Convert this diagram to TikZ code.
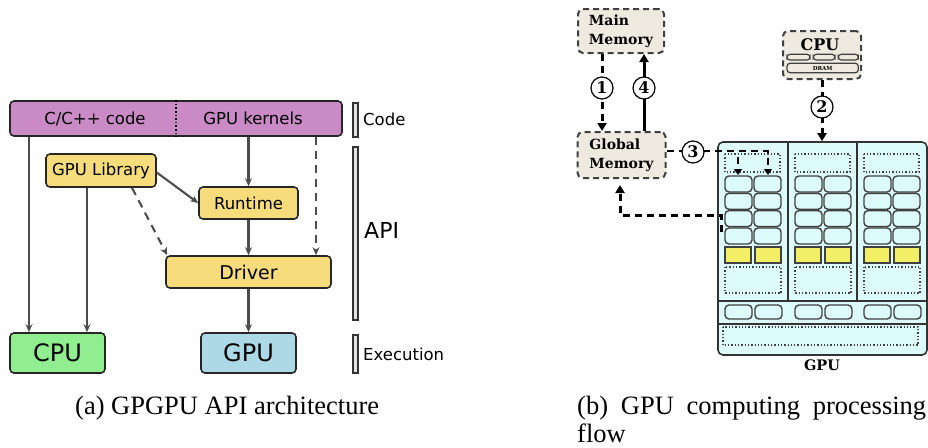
\documentclass[tikz,border=0pt]{standalone}
\usepackage{fontspec}
\setmainfont{Liberation Serif}
\newfontfamily\dvsans{DejaVu Sans}
\newfontfamily\dvserif{DejaVu Serif}
\usetikzlibrary{arrows.meta}
\definecolor{codepurple}{HTML}{C98AC6}
\definecolor{libyellow}{HTML}{F6DC7B}
\definecolor{cpugreen}{HTML}{90EE90}
\definecolor{gpublue}{HTML}{ADD8E6}
\definecolor{barfill}{HTML}{E2E2E2}
\definecolor{arrowgray}{HTML}{4D4D4D}
\definecolor{memfill}{HTML}{EEEADF}
\definecolor{gpucyan}{HTML}{DDFBFB}
\definecolor{coreyellow}{HTML}{F2EE66}
\begin{document}
\begin{tikzpicture}[x=1pt,y=-1pt,
  lbox/.style={draw=black!85, line width=1.6pt, rounded corners=4pt, inner sep=0pt},
  ltext/.style={font=\dvsans\fontsize{16.5}{18}\selectfont, inner sep=0pt},
  larrow/.style={draw=arrowgray, line width=2.1pt, -{Stealth[length=8pt,width=7pt]}},
  ldash/.style={larrow, dash pattern=on 8pt off 6pt},
  bar/.style={draw=black!80, fill=barfill, line width=1.4pt, minimum width=5pt, inner sep=0pt},
  mem/.style={draw=black!75, fill=memfill, line width=2pt, dash pattern=on 6pt off 4pt, rounded corners=5pt, inner sep=0pt, align=left, font=\dvserif\bfseries\fontsize{14}{18.5}\selectfont},
  rarrow/.style={draw=black, line width=3pt, -{Triangle[length=8pt,width=9pt]}},
  rdash/.style={rarrow, dash pattern=on 7pt off 5pt},
  thindash/.style={draw=black, line width=2.2pt, dash pattern=on 7pt off 5pt, -{Triangle[length=6pt,width=8pt]}},
  num/.style={circle, draw=black, line width=1.2pt, fill=white, minimum size=22pt, inner sep=0pt, font=\dvserif\bfseries\fontsize{16}{16}\selectfont},
  cell/.style={draw=black!75, fill=gpucyan, line width=1.4pt, rounded corners=4pt},
  core/.style={draw=black!75, fill=coreyellow, line width=1.4pt},
  dotbox/.style={draw=black!75, line width=1.3pt, dotted},
  captxt/.style={font=\fontsize{26.5}{28}\selectfont, inner sep=0pt, anchor=base west}
]
\useasboundingbox (0,0) rectangle (928,447);

% ---------------- left diagram ----------------
\node[lbox, fill=codepurple, minimum width=332pt, minimum height=35pt] (code) at (176,118.5) {};
\node[ltext] (ccode) at (95,118.5) {C/C++ code};
\node[ltext] (gkern) at (253,118.5) {GPU kernels};
\draw[dotted, line width=1.6pt] (176,0 |- code.north) -- (176,0 |- code.south);

\node[lbox, fill=libyellow, minimum width=110pt, minimum height=33pt, ltext] (lib) at (101,170.5) {GPU Library};
\node[lbox, fill=libyellow, minimum width=99pt, minimum height=32pt, ltext] (runtime) at (248.5,203) {Runtime};
\node[lbox, fill=libyellow, minimum width=165pt, minimum height=32pt, font=\dvsans\fontsize{19}{20}\selectfont] (driver) at (248.5,272) {Driver};
\node[lbox, fill=cpugreen, minimum width=95pt, minimum height=40pt, font=\dvsans\fontsize{24}{26}\selectfont] (cpu) at (57.5,353) {CPU};
\node[lbox, fill=gpublue, minimum width=95pt, minimum height=40pt, font=\dvsans\fontsize{24}{26}\selectfont] (gpu) at (248.5,353) {GPU};

\draw[larrow] (29,0 |- code.south) -- (29,0 |- cpu.north);
\draw[larrow] (87,0 |- lib.south) -- (87,0 |- cpu.north);
\draw[larrow] (248.5,0 |- code.south) -- (runtime.north);
\draw[ldash] (316,0 |- code.south) -- (316,0 |- driver.north);
\draw[larrow] ([yshift=-2pt]lib.east) -- (runtime.west);
\draw[ldash] (132,0 |- lib.south) -- ([xshift=2pt]driver.north west);
\draw[larrow] (runtime.south) -- (driver.north);
\draw[larrow] (driver.south) -- (gpu.north);

\node[bar, minimum height=34pt] (codebar) at (355.5,120) {};
\node[ltext, anchor=west] (codelbl) at (363,119) {Code};
\node[bar, minimum height=173pt] (apibar) at (355.5,233.5) {};
\node[font=\dvsans\fontsize{22}{24}\selectfont, inner sep=0pt, anchor=west] (apilbl) at (364,230) {API};
\node[bar, minimum height=38pt] (exebar) at (355.5,354) {};
\node[ltext, anchor=west] (exelbl) at (363,354) {Execution};

% ---------------- right diagram ----------------
\node[mem, minimum width=86pt, minimum height=44pt] (mainmem) at (621,31) {Main\\Memory};
\node[mem, minimum width=88pt, minimum height=46pt] (globmem) at (621.5,155) {Global\\Memory};

% CPU box
\node[mem, minimum width=78pt, minimum height=48pt] (cpubox) at (822,55) {};
\node[font=\dvserif\bfseries\fontsize{16}{16}\selectfont, inner sep=0pt] (cputxt) at (820,45) {CPU};
\draw[cell, fill=memfill, rounded corners=3pt, line width=1.2pt] (787,54.3) rectangle (810,60);
\draw[cell, fill=memfill, rounded corners=3pt, line width=1.2pt] (813.3,54.3) rectangle (835,60);
\draw[cell, fill=memfill, rounded corners=3pt, line width=1.2pt] (838.3,54.3) rectangle (858.3,60);
\draw[cell, fill=memfill, rounded corners=3pt, line width=1.2pt] (787,63.3) rectangle (858.3,72.7);
\node[font=\dvserif\bfseries\fontsize{5.5}{6}\selectfont, inner sep=0pt] (dram) at (822.6,68.3) {DRAM};

% GPU chip
\node[draw=black!80, fill=gpucyan, line width=1.6pt, rounded corners=5pt, minimum width=209pt, minimum height=213pt, inner sep=0pt] (chip) at (822.5,248.5) {};
\draw[draw=black!80, line width=1.6pt] (788,142) -- (788,301) (857,142) -- (857,301)
  (718,301) -- (927,301) (718,324) -- (927,324);
\foreach \L in {718,788,857}{
  \draw[dotbox] (\L+7,154) rectangle (\L+62,172);
  \foreach \y in {176,193.3,210.6,228}{
    \draw[cell] (\L+7,\y) rectangle ++(27,16);
    \draw[cell] (\L+36,\y) rectangle ++(27,16);
  }
  \draw[core] (\L+7,247) rectangle ++(26,16);
  \draw[core] (\L+37,247) rectangle ++(26,16);
  \draw[dotbox] (\L+7,267) rectangle (\L+63,293);
  \draw[cell] (\L+7,305) rectangle ++(27,14);
  \draw[cell] (\L+37,305) rectangle ++(27,14);
}
\draw[dotbox] (723,327) rectangle (918,345);
\node[font=\dvserif\bfseries\fontsize{14.5}{15}\selectfont, inner sep=0pt] (gpulbl) at (822,365) {GPU};

% flow arrows
\draw[rdash] (602,0 |- mainmem.south) -- (602,0 |- globmem.north);
\node[num] (n1) at (602,88) {1};
\draw[rarrow] (644,0 |- globmem.north) -- (644,0 |- mainmem.south);
\node[num] (n4) at (644,88) {4};
\draw[rdash] (cpubox.south) -- (822,0 |- chip.north);
\node[num] (n2) at (822,107) {2};
\draw[thindash] (globmem.east |- 0,151) -- (768,151) -- (768,175);
\draw[thindash] (738,157) -- (738,175);
\node[num] (n3) at (693,152) {3};
\draw[rdash, shorten >=6pt] (721,232) -- (721,215) -- (620,215) -- (620,0 |- globmem.south);

% captions
\node[captxt] (capa) at (75,414) {(a) GPGPU API architecture};
\node[captxt] (capb) at (577,414) {\makebox[349pt][s]{(b) GPU computing processing}};
\node[captxt] (capc) at (577,442) {flow};
\end{tikzpicture}
\end{document}
